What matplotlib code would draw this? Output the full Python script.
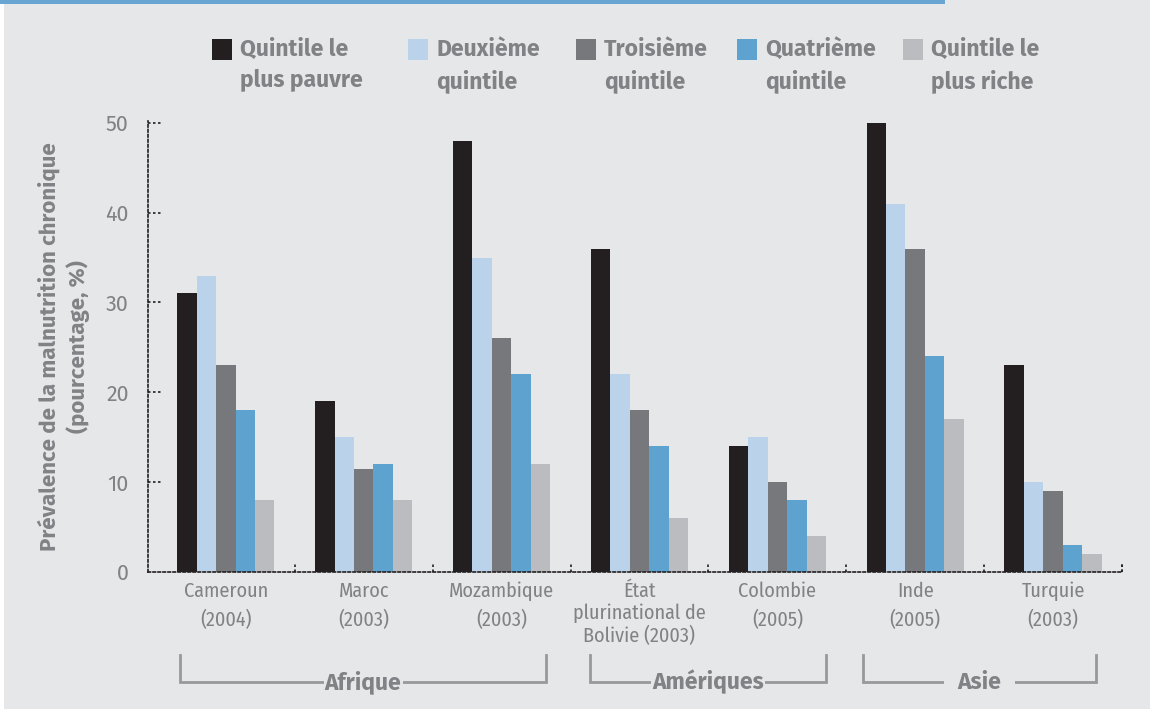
import numpy as np
import matplotlib
matplotlib.use("Agg")
import matplotlib.pyplot as plt
from matplotlib.patches import Rectangle
from matplotlib.transforms import blended_transform_factory

plt.rcParams['font.family'] = ['Fira Sans Condensed', 'DejaVu Sans']
wide = ['Fira Sans', 'DejaVu Sans']

countries = ["Cameroun\n(2004)", "Maroc\n(2003)", "Mozambique\n(2003)",
             "État\nplurinational de\nBolivie (2003)", "Colombie\n(2005)",
             "Inde\n(2005)", "Turquie\n(2003)"]
series_names = ["Quintile le\nplus pauvre", "Deuxième\nquintile", "Troisième\nquintile",
                "Quatrième\nquintile", "Quintile le\nplus riche"]
poorest = [31, 19, 48, 36, 14, 50, 23]
second = [33, 15, 35, 22, 15, 41, 10]
third = [23, 11.5, 26, 18, 10, 36, 9]
fourth = [18, 12, 22, 14, 8, 24, 3]
richest = [8, 8, 12, 6, 4, 17, 2]
regions = ["Afrique", "Amériques", "Asie"]
region_spans = [(0, 2), (3, 4), (5, 6)]
yticks = [0, 10, 20, 30, 40, 50]

colors = ["#231f20", "#bbd3ea", "#77787b", "#5ea3cf", "#bbbcbf"]
bg = "#e6e7e9"
txt = "#808285"

fig = plt.figure(figsize=(11.5, 7.09), dpi=100, facecolor=bg)
ax = fig.add_axes([148 / 1150, 1 - 572 / 709, (1122 - 148) / 1150, (572 - 121) / 709])
ax.set_facecolor(bg)

# top banner and thin white edge
fig.add_artist(Rectangle((0, 1 - 4 / 709), 945 / 1150, 4 / 709, transform=fig.transFigure,
                         facecolor="#68a5d2", edgecolor="none"))
fig.add_artist(Rectangle((0, 0), 4 / 1150, 1 - 4 / 709, transform=fig.transFigure,
                         facecolor="white", edgecolor="none"))

x = np.arange(len(countries))
w = 0.141
data = [poorest, second, third, fourth, richest]
for i, (vals, c) in enumerate(zip(data, colors)):
    ax.bar(x + (i - 2) * w, vals, width=w, color=c, linewidth=0, zorder=2)

ax.set_xlim(-0.565, len(countries) - 0.5)
ax.set_ylim(0, 50.2)

for s in ["top", "right"]:
    ax.spines[s].set_visible(False)
for s in ["left", "bottom"]:
    ax.spines[s].set_linestyle((0, (1.5, 1.5)))
    ax.spines[s].set_color("#231f20")
    ax.spines[s].set_linewidth(1.2)

ax.set_yticks(yticks)
ax.set_yticklabels([str(v) for v in yticks], fontsize=15.5, color=txt, family=wide)
ax.tick_params(axis="y", length=0, pad=14)
ax.set_xticks(x)
ax.set_xticklabels(countries, fontsize=14.5, color=txt)
ax.tick_params(axis="x", length=0, pad=7)
for lab in ax.get_xticklabels():
    lab.set_linespacing(1.15 if lab.get_text().count("\n") == 2 else 1.55)

# dotted inward tick marks
ax.hlines(yticks[1:], 0, 0.013, transform=ax.get_yaxis_transform(), colors="#231f20",
          linestyles=(0, (1.5, 1.5)), linewidth=1.2, zorder=3)
bounds = np.arange(0.5, len(countries), 1.0)
ax.vlines(list(bounds) + [len(countries) - 0.5], 0, 0.9, colors="#231f20",
          linestyles=(0, (1.5, 1.5)), linewidth=1.2, zorder=3, clip_on=False)

ax.set_ylabel("Prévalence de la malnutrition chronique\n(pourcentage, %)",
              fontsize=16, fontweight="bold", color=txt, labelpad=11, linespacing=1.35,
              family=wide)

# legend across the top
lx = [212, 408, 576, 737, 903]
for px, name, c in zip(lx, series_names, colors):
    fig.add_artist(Rectangle((px / 1150, 1 - 60 / 709), 20 / 1150, 21 / 709,
                             transform=fig.transFigure, facecolor=c, edgecolor="none"))
    fig.text((px + 28) / 1150, 1 - 38 / 709, name, fontsize=16.5, fontweight="bold",
             color=txt, va="top", ha="left", linespacing=1.45, family=wide)

# regional brackets
tr = blended_transform_factory(ax.transData, fig.transFigure)
y_top, y_bot = 1 - 655 / 709, 1 - 682 / 709
bracket_pad = [(0.33, 0.32), (0.36, 0.35), (0.38, 0.31)]
for name, (a, b), (pl, pr) in zip(regions, region_spans, bracket_pad):
    x0, x1 = a - pl, b + pr
    ax.plot([x0, x0, x1, x1], [y_top, y_bot, y_bot, y_top], transform=tr,
            color="#98999b", linewidth=2, clip_on=False, solid_joinstyle="miter")
    pad = 0.6 if name == "Asie" else 0.05
    ax.text((x0 + x1) / 2, y_bot, name, transform=tr, ha="center", va="center",
            fontsize=16.5, fontweight="bold", color=txt, family=wide,
            bbox=dict(boxstyle=f"square,pad={pad}", facecolor=bg, edgecolor="none"))

fig.savefig("out.png", dpi=100, facecolor=bg)
